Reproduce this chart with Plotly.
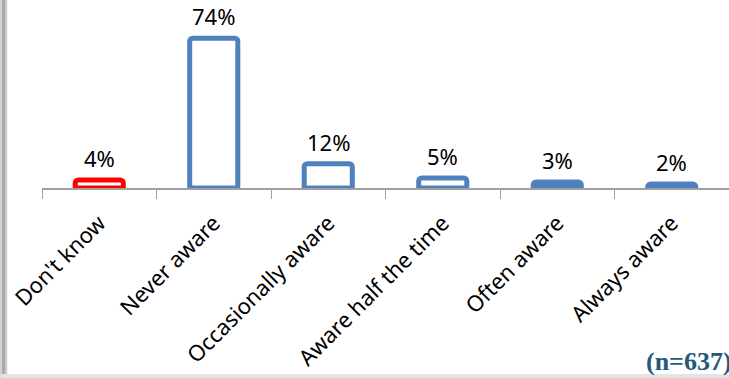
import plotly.graph_objects as go

categories = ["Don't know", "Never aware", "Occasionally aware", "Aware half the time", "Often aware", "Always aware"]
values = [4, 74, 12, 5, 3, 2]
labels = ["4%", "74%", "12%", "5%", "3%", "2%"]
outline_colors = ["#FF0000", "#4F81BD", "#4F81BD", "#4F81BD", "#4F81BD", "#4F81BD"]
fill_colors = ["#FFFFFF", "#FFFFFF", "#FFFFFF", "#FFFFFF", "#4F81BD", "#4F81BD"]

fig = go.Figure()
fig.add_trace(go.Bar(
    x=categories, y=values,
    marker=dict(color=fill_colors, line=dict(color=outline_colors, width=5), cornerradius=3),
    width=0.42,
    hoverinfo="skip",
))
for c, v, t in zip(categories, values, labels):
    fig.add_annotation(x=c, y=v, text=t, showarrow=False, yshift=22,
                       font=dict(family="Noto Sans", size=22, color="#000000"))

fig.add_annotation(xref="paper", yref="paper", x=1.008, y=-1.048, xanchor="right", yanchor="middle",
                   text="<b>(n=637)</b>", showarrow=False,
                   font=dict(family="Liberation Serif", size=26, color="#215B7C"))

# slide border shading
fig.add_shape(type="rect", xref="paper", yref="paper", x0=-0.0611, x1=-0.0505, y0=-1.2, y1=1.2,
              fillcolor="#D0D0D0", line=dict(width=0), layer="below")
fig.add_shape(type="rect", xref="paper", yref="paper", x0=-0.058, x1=-0.0535, y0=-1.2, y1=1.2,
              fillcolor="#A8A8A8", line=dict(width=0), layer="below")
fig.add_shape(type="rect", xref="paper", yref="paper", x0=-0.06, x1=1.1, y0=-1.16, y1=-1.12,
              fillcolor="#E4E4E4", line=dict(width=0), layer="below")

fig.update_layout(
    width=729, height=378,
    margin=dict(l=42, r=0, t=22, b=190, autoexpand=False),
    plot_bgcolor="white", paper_bgcolor="white",
    showlegend=False,
    xaxis=dict(showline=True, linecolor="#A0A0A0", linewidth=1.5,
               ticks="outside", tickson="boundaries", ticklen=9, tickcolor="#A0A0A0",
               tickangle=-45, tickfont=dict(family="Noto Sans", size=22, color="#000000"),
               ticklabelstandoff=12,
               showgrid=False, automargin=False),
    yaxis=dict(range=[0, 82], visible=False, showgrid=False, zeroline=False),
)
fig.write_html("out.html", config={"displayModeBar": False, "staticPlot": True},
               post_script="document.body.style.margin='0';document.body.style.overflow='hidden';")
